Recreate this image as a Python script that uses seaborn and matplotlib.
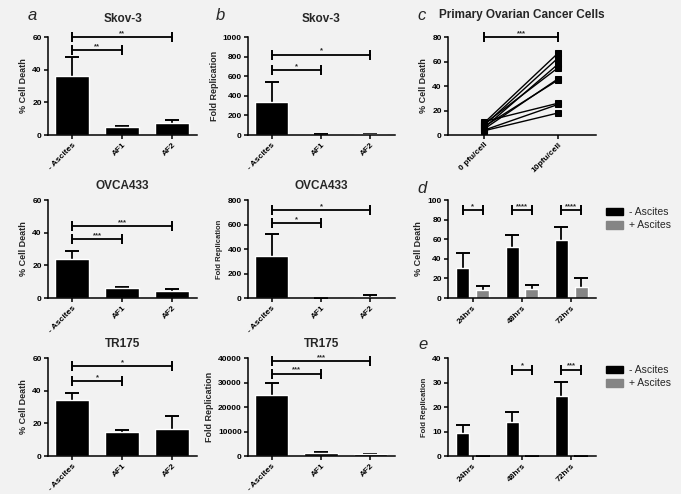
import numpy as np
import pandas as pd
import matplotlib
matplotlib.use("Agg")
import matplotlib.pyplot as plt
import matplotlib.patches as mpatches
import seaborn as sns

# --- data ---
cats = ["- Ascites", "AF1", "AF2"]

skov_death = [36, 5, 7.5]
skov_death_sd = [12, 0.8, 1.5]
skov_rep = [335, 5, 8]
skov_rep_sd = [210, 3, 4]

ovca_death = [24, 6, 4.5]
ovca_death_sd = [5, 0.5, 1.2]
ovca_rep = [340, 2, 12]
ovca_rep_sd = [180, 1, 13]

tr_death = [34, 14.6, 16.3]
tr_death_sd = [4.8, 1.5, 8.3]
tr_rep = [24950, 1300, 700]
tr_rep_sd = [5000, 500, 150]

doses = ["0 pfu/cell", "10pfu/cell"]
primary_0 = [10, 8, 6, 9, 5, 7, 11, 4, 3.5]
primary_10 = [67, 63, 58, 55, 46, 45, 26, 25, 18]

times = ["24hrs", "48hrs", "72hrs"]
conds = ["- Ascites", "+ Ascites"]
time_death_minus = [30.8, 52.5, 59.3]
time_death_minus_sd = [15, 12, 13]
time_death_plus = [8.5, 9.5, 11.2]
time_death_plus_sd = [3.4, 3.4, 9.1]
time_rep_minus = [9.5, 13.8, 24.4]
time_rep_minus_sd = [3.1, 4.0, 5.8]
time_rep_plus = [0.05, 0.05, 0.05]
time_rep_plus_sd = [0, 0, 0]

BG = "#f2f2f2"
GRAY = "#858585"

sns.set_style("ticks")
plt.rcParams["font.family"] = ["Liberation Sans", "DejaVu Sans"]
plt.rcParams["font.weight"] = "bold"

fig = plt.figure(figsize=(6.81, 4.94), dpi=100, facecolor=BG)

W, H = 681, 494
cols = [(48, 197), (248, 395), (448, 596)]
rows = [(37, 135), (200, 298), (358, 456)]


def make_ax(c, r):
    x0, x1 = cols[c]
    y0, y1 = rows[r]
    ax = fig.add_axes([x0 / W, 1 - y1 / H, (x1 - x0) / W, (y1 - y0) / H])
    ax.set_facecolor(BG)
    sns.despine(ax=ax)
    for s in ["left", "bottom"]:
        ax.spines[s].set_linewidth(1.1)
        ax.spines[s].set_color("black")
    ax.tick_params(length=3, width=1.1, labelsize=6, pad=1.5, colors="black")
    return ax


def err(ax, xs, ys, sds):
    _, caps, _ = ax.errorbar(xs, ys, yerr=[np.zeros(len(sds)), sds], fmt="none",
                             ecolor="black", elinewidth=1.3, capsize=5, capthick=1.4,
                             zorder=1)
    caps[0].set_visible(False)


def bracket(ax, x1, x2, y, stars):
    ax.plot([x1, x2], [y, y], color="black", lw=1.3, marker="|", ms=6.5, mew=1.4,
            clip_on=False, zorder=5)
    ax.text((x1 + x2) / 2, y, stars, ha="center", va="bottom", fontsize=5.5,
            fontweight="bold")


def finish_x(ax, labels):
    ax.set_xticks(range(len(labels)))
    ax.set_xticklabels(labels, rotation=45, ha="right", rotation_mode="anchor",
                       fontsize=6, fontweight="bold")
    ax.set_xlabel("")


def title_pad(r):
    return 11 if r == 0 else 8


def bar_panel(c, r, vals, sds, title, ylabel, ymax, ystep, brackets, ylab_size=6.5):
    ax = make_ax(c, r)
    sns.barplot(x=cats, y=vals, color="black", width=0.68, errorbar=None,
                ax=ax, zorder=2, saturation=1)
    err(ax, range(len(cats)), vals, sds)
    ax.set_xlim(-0.48, 2.5)
    ax.set_ylim(0, ymax)
    ax.set_yticks(np.arange(0, ymax + 1, ystep))
    for lbl in ax.get_yticklabels():
        lbl.set_fontweight("bold")
    finish_x(ax, cats)
    ax.set_title(title, fontsize=8.5, fontweight="bold", pad=title_pad(r))
    ax.set_ylabel(ylabel, fontsize=ylab_size, fontweight="bold", labelpad=3)
    for x2, y, s in brackets:
        bracket(ax, 0, x2, y, s)
    return ax


bar_panel(0, 0, skov_death, skov_death_sd, "Skov-3", "% Cell Death", 60, 20,
          [(1, 52, "**"), (2, 60, "**")])
bar_panel(1, 0, skov_rep, skov_rep_sd, "Skov-3", "Fold Replication", 1000, 200,
          [(1, 660, "*"), (2, 820, "*")])
bar_panel(0, 1, ovca_death, ovca_death_sd, "OVCA433", "% Cell Death", 60, 20,
          [(1, 36, "***"), (2, 44, "***")])
bar_panel(1, 1, ovca_rep, ovca_rep_sd, "OVCA433", "Fold Replication", 800, 200,
          [(1, 613, "*"), (2, 715, "*")], ylab_size=5.5)
bar_panel(0, 2, tr_death, tr_death_sd, "TR175", "% Cell Death", 60, 20,
          [(1, 46, "*"), (2, 55, "*")])
bar_panel(1, 2, tr_rep, tr_rep_sd, "TR175", "Fold Replication", 40000, 10000,
          [(1, 33600, "***"), (2, 38600, "***")])

# --- panel c: paired primary cells ---
axc = make_ax(2, 0)
pdf = pd.DataFrame({
    "dose": [doses[0]] * len(primary_0) + [doses[1]] * len(primary_10),
    "value": primary_0 + primary_10,
    "donor": list(range(len(primary_0))) * 2,
})
pdf["x"] = pdf["dose"].map({d: i for i, d in enumerate(doses)})
sns.lineplot(data=pdf, x="x", y="value", units="donor", estimator=None,
             color="black", lw=1, marker="s", markersize=4.5, markeredgecolor="black",
             ax=axc)
axc.set_xlim(-0.49, 1.51)
axc.set_ylim(0, 80)
axc.set_yticks(range(0, 81, 20))
finish_x(axc, doses)
axc.set_title("Primary Ovarian Cancer Cells", fontsize=8.5, fontweight="bold", pad=14)
axc.set_ylabel("% Cell Death", fontsize=6.5, fontweight="bold", labelpad=3)
bracket(axc, 0, 1, 80, "***")


# --- panels d and e: time course with/without ascites ---
def time_panel(r, minus, minus_sd, plus, plus_sd, ylabel, ymax, ystep, brackets,
               ylab_size=6.5):
    ax = make_ax(2, r)
    df = pd.DataFrame({
        "time": times * 2,
        "cond": [conds[0]] * 3 + [conds[1]] * 3,
        "value": minus + plus,
    })
    sns.barplot(data=df, x="time", y="value", hue="cond", hue_order=conds,
                palette=["black", GRAY], width=0.8, gap=0.33, errorbar=None,
                legend=False, ax=ax, zorder=2, saturation=1)
    xs = np.arange(len(times))
    err(ax, xs - 0.2, minus, minus_sd)
    err(ax, xs + 0.2, plus, plus_sd)
    ax.set_xlim(-0.5, 2.5)
    ax.set_ylim(0, ymax)
    ax.set_yticks(np.arange(0, ymax + 1, ystep))
    finish_x(ax, times)
    ax.set_ylabel(ylabel, fontsize=ylab_size, fontweight="bold", labelpad=3)
    for i, y, s in brackets:
        bracket(ax, i - 0.2, i + 0.2, y, s)
    handles = [mpatches.Patch(color="black", label=conds[0]),
               mpatches.Patch(color=GRAY, label=conds[1])]
    ax.legend(handles=handles, loc="upper left", bbox_to_anchor=(1.04, 0.97),
              frameon=False, prop={"size": 7.5, "weight": "normal"},
              handlelength=1.6, handleheight=0.8,
              handletextpad=0.6, labelspacing=0.3, borderaxespad=0)
    return ax


time_panel(1, time_death_minus, time_death_minus_sd, time_death_plus,
           time_death_plus_sd, "% Cell Death", 100, 20,
           [(0, 90, "*"), (1, 90, "****"), (2, 90, "****")])
time_panel(2, time_rep_minus, time_rep_minus_sd, time_rep_plus, time_rep_plus_sd,
           "Fold Replication", 40, 10, [(1, 35.3, "*"), (2, 35.3, "***")],
           ylab_size=5.5)

# panel letters
for letter, x, y in [("a", 32, 15), ("b", 220, 15), ("c", 422, 15),
                     ("d", 422, 188), ("e", 423, 344)]:
    fig.text(x / W, 1 - y / H, letter, fontsize=12, style="italic",
             fontweight="normal", ha="center", va="center")

fig.savefig("out.png", dpi=100, facecolor=BG)
